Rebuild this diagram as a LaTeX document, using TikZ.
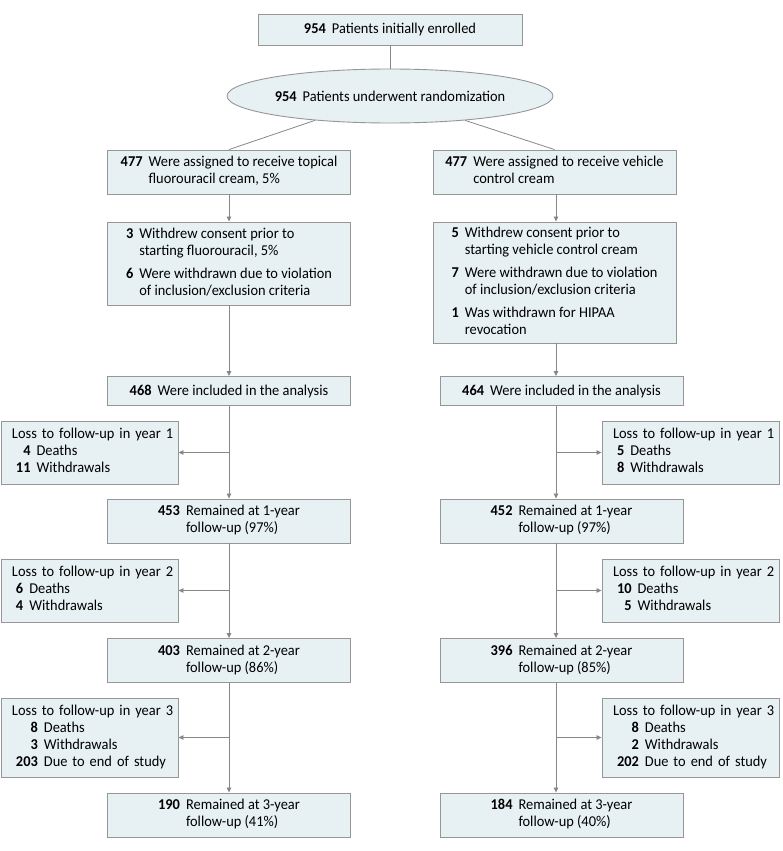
\documentclass[tikz,border=0pt]{standalone}
\usepackage{fontspec}
\setmainfont{Carlito}[FakeStretch=0.96]
\usetikzlibrary{shapes.geometric,arrows.meta,calc}
\definecolor{boxfill}{RGB}{231,240,243}
\definecolor{boxline}{RGB}{150,150,150}
\definecolor{conn}{RGB}{135,135,135}
\newcommand{\numtab}[1]{\begin{tabular}{@{}r@{\hspace{6pt}}l@{}}#1\end{tabular}}
\newcommand{\losstab}[1]{\begin{tabular}{@{\hspace{4pt}}r@{\hspace{6pt}}l@{}}#1\end{tabular}}
\begin{document}
\begin{tikzpicture}[x=1pt,y=-1pt,
  txt/.style={font=\fontsize{15}{17}\selectfont},
  box/.style={txt, draw=boxline, fill=boxfill, line width=0.9pt, inner sep=0pt, align=center},
  colbox/.style={box, minimum width=243pt},
  lossbox/.style={box, minimum width=177pt, text width=155pt, align=left},
  ell/.style={txt, ellipse, draw=boxline, fill=boxfill, line width=0.9pt, inner sep=0pt, minimum width=306pt, minimum height=54pt},
  ln/.style={draw=conn, line width=0.8pt},
  arr/.style={ln, -{Triangle[length=5pt,width=4.5pt]}}]
\useasboundingbox (0,0) rectangle (783,851);

\coordinate (colL) at (229,0);
\coordinate (colR) at (556,0);

% top
\node[box, minimum width=264pt, minimum height=31pt] (top) at (390,29.5) {\textbf{954}\hspace{6pt}Patients initially enrolled};
\node[ell] (rand) at (390,96) {\textbf{954}\hspace{6pt}Patients underwent randomization};

% assigned
\node[colbox, minimum height=44pt] (aL) at (229,172) {\numtab{\textbf{477} & Were assigned to receive topical\\ & fluorouracil cream, 5\%}};
\node[colbox, minimum height=44pt] (aR) at (554.5,172) {\numtab{\textbf{477} & Were assigned to receive vehicle\\ & control cream}};

% withdrawn
\node[colbox, minimum height=83pt] (wL) at (229,263.5) {\numtab{\textbf{3} & Withdrew consent prior to\\ & starting fluorouracil, 5\%\\[6pt]
\textbf{6} & Were withdrawn due to violation\\ & of inclusion/exclusion criteria}};
\node[colbox, minimum height=121pt] (wR) at (554.5,282.5) {\numtab{\textbf{5} & Withdrew consent prior to\\ & starting vehicle control cream\\[6pt]
\textbf{7} & Were withdrawn due to violation\\ & of inclusion/exclusion criteria\\[6pt]
\textbf{1} & Was withdrawn for HIPAA\\ & revocation}};

% included
\node[colbox, minimum height=29pt] (iL) at (229,391) {\textbf{468}\hspace{6pt}Were included in the analysis};
\node[colbox, minimum height=29pt] (iR) at (561.5,391) {\textbf{464}\hspace{6pt}Were included in the analysis};

% year 1
\node[lossbox, minimum height=63pt] (l1L) at (89.5,452.5) {\losstab{\multicolumn{2}{@{}l@{}}{Loss to follow-up in year 1}\\ \textbf{4} & Deaths\\ \textbf{11} & Withdrawals}};
\node[lossbox, minimum height=63pt] (l1R) at (690.5,452.5) {\losstab{\multicolumn{2}{@{}l@{}}{Loss to follow-up in year 1}\\ \textbf{5} & Deaths\\ \textbf{8} & Withdrawals}};
\node[colbox, minimum height=44pt] (r1L) at (229,521) {\numtab{\textbf{453} & Remained at 1-year\\ & follow-up (97\%)}};
\node[colbox, minimum height=44pt] (r1R) at (561.5,521) {\numtab{\textbf{452} & Remained at 1-year\\ & follow-up (97\%)}};

% year 2
\node[lossbox, minimum height=63pt] (l2L) at (89.5,590.5) {\losstab{\multicolumn{2}{@{}l@{}}{Loss to follow-up in year 2}\\ \textbf{6} & Deaths\\ \textbf{4} & Withdrawals}};
\node[lossbox, minimum height=63pt] (l2R) at (690.5,590.5) {\losstab{\multicolumn{2}{@{}l@{}}{Loss to follow-up in year 2}\\ \textbf{10} & Deaths\\ \textbf{5} & Withdrawals}};
\node[colbox, minimum height=44pt] (r2L) at (229,660.5) {\numtab{\textbf{403} & Remained at 2-year\\ & follow-up (86\%)}};
\node[colbox, minimum height=44pt] (r2R) at (561.5,660.5) {\numtab{\textbf{396} & Remained at 2-year\\ & follow-up (85\%)}};

% year 3
\node[lossbox, minimum height=79pt] (l3L) at (89.5,737.5) {\losstab{\multicolumn{2}{@{}l@{}}{Loss to follow-up in year 3}\\ \textbf{8} & Deaths\\ \textbf{3} & Withdrawals\\ \textbf{203} & Due to end of study}};
\node[lossbox, minimum height=79pt] (l3R) at (690.5,737.5) {\losstab{\multicolumn{2}{@{}l@{}}{Loss to follow-up in year 3}\\ \textbf{8} & Deaths\\ \textbf{2} & Withdrawals\\ \textbf{202} & Due to end of study}};
\node[colbox, minimum height=44pt] (r3L) at (229,815) {\numtab{\textbf{190} & Remained at 3-year\\ & follow-up (41\%)}};
\node[colbox, minimum height=44pt] (r3R) at (561.5,815) {\numtab{\textbf{184} & Remained at 3-year\\ & follow-up (40\%)}};

% connectors
\draw[ln] (top.south) -- (rand.north);
\draw[ln] (rand.198) -- (aL.north);
\draw[ln] (rand.342) -- (aR.north);

\draw[arr] (aL.south -| colL) -- (wL.north -| colL);
\draw[arr] (wL.south -| colL) -- (iL.north -| colL);
\draw[arr] (iL.south -| colL) -- (r1L.north -| colL);
\draw[arr] (r1L.south -| colL) -- (r2L.north -| colL);
\draw[arr] (r2L.south -| colL) -- (r3L.north -| colL);
\draw[arr] (l1L.east -| colL) -- (l1L.east);
\draw[arr] (l2L.east -| colL) -- (l2L.east);
\draw[arr] (l3L.east -| colL) -- (l3L.east);

\draw[arr] (aR.south -| colR) -- (wR.north -| colR);
\draw[arr] (wR.south -| colR) -- (iR.north -| colR);
\draw[arr] (iR.south -| colR) -- (r1R.north -| colR);
\draw[arr] (r1R.south -| colR) -- (r2R.north -| colR);
\draw[arr] (r2R.south -| colR) -- (r3R.north -| colR);
\draw[arr] (l1R.west -| colR) -- (l1R.west);
\draw[arr] (l2R.west -| colR) -- (l2R.west);
\draw[arr] (l3R.west -| colR) -- (l3R.west);
\end{tikzpicture}
\end{document}
